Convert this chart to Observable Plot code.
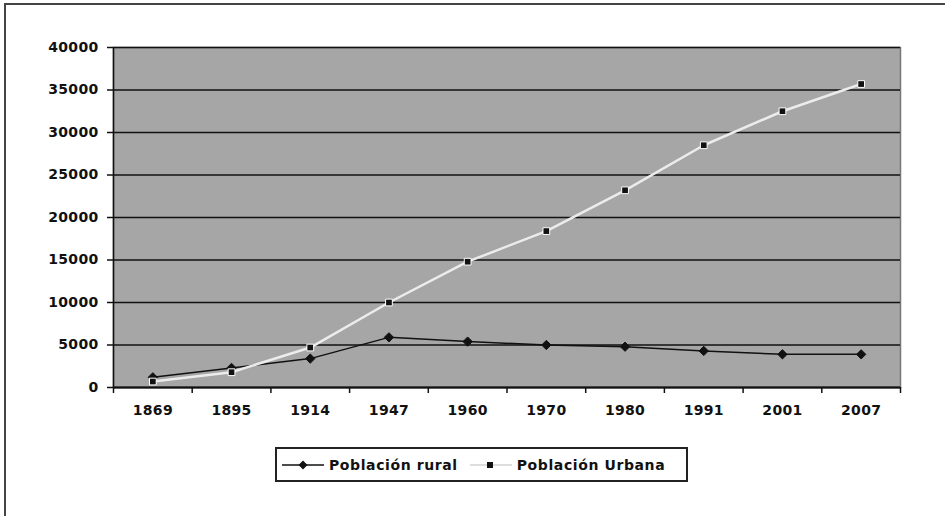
<!DOCTYPE html>
<html>
<head>
<meta charset="utf-8">
<script src="https://cdn.jsdelivr.net/npm/d3@7"></script>
<script src="https://cdn.jsdelivr.net/npm/@observablehq/plot@0.6"></script>
<style>
  html, body { margin: 0; padding: 0; overflow: hidden; background: #fff; }
  #wrap { position: relative; width: 945px; height: 516px; overflow: hidden; }
  #frame { position: absolute; left: 4px; top: 3px; width: 960px; height: 600px; border: 2px solid #444; box-sizing: border-box; }
  #legend { position: absolute; left: 275px; top: 447px; width: 413px; height: 35px; box-sizing: border-box;
    border: 2px solid #222; display: flex; align-items: center; font-family: "DejaVu Sans", sans-serif; font-weight: bold; font-size: 14px; letter-spacing: 0.6px; color: #111; background: #fff; }
  #legend .item { display: flex; align-items: center; }
  #legend svg { display: block; }
  #chart { position: absolute; left: 0; top: 0; }
</style>
</head>
<body>
<div id="wrap">
  <div id="frame"></div>
  <div id="chart"></div>
  <div id="legend"></div>
</div>
<script>
const years = ["1869", "1895", "1914", "1947", "1960", "1970", "1980", "1991", "2001", "2007"];
const rural = [1200, 2300, 3400, 5900, 5400, 5000, 4800, 4300, 3900, 3900];
const urban = [700, 1800, 4700, 10000, 14800, 18400, 23200, 28500, 32500, 35700];
const yTicks = [0, 5000, 10000, 15000, 20000, 25000, 30000, 35000, 40000];
const seriesNames = ["Población rural", "Población Urbana"];

const ruralData = years.map((y, i) => ({i: i + 0.5, year: y, value: rural[i]}));
const urbanData = years.map((y, i) => ({i: i + 0.5, year: y, value: urban[i]}));

const chart = Plot.plot({
  width: 945,
  height: 516,
  marginLeft: 113,
  marginRight: 45,
  marginTop: 47,
  marginBottom: 129,
  style: {fontFamily: "DejaVu Sans, sans-serif", fontWeight: "bold", fontSize: "14px", letterSpacing: "0.3px", color: "#111", background: "transparent", overflow: "visible"},
  x: {domain: [0, years.length], axis: null},
  y: {domain: [0, 40000], axis: null},
  marks: [
    Plot.frame({fill: "#a6a6a6", stroke: "#777", strokeWidth: 1.5}),
    Plot.gridY(yTicks, {stroke: "#111", strokeOpacity: 1, strokeWidth: 1.5}),
    Plot.axisY(yTicks, {label: null, tickSize: 6, tickPadding: 9, stroke: "#111", strokeWidth: 1.5, fill: "#111", tickFormat: d => String(d)}),
    Plot.ruleX([0], {stroke: "#111", strokeWidth: 1.5}),
    Plot.ruleY([0], {stroke: "#111", strokeWidth: 2}),
    Plot.axisX(d3.range(years.length + 1), {label: null, tickSize: 6, stroke: "#111", strokeWidth: 1.5, tickFormat: () => ""}),
    Plot.axisX(years.map((_, i) => i + 0.5), {label: null, tickSize: 0, tickPadding: 18, fill: "#111", tickFormat: d => years[Math.floor(d)]}),
    Plot.line(ruralData, {x: "i", y: "value", stroke: "#111", strokeWidth: 1.5}),
    Plot.line(urbanData, {x: "i", y: "value", stroke: "#ececec", strokeWidth: 2.5}),
    Plot.dot(ruralData, {x: "i", y: "value", symbol: "diamond2", fill: "#111", stroke: "#111", strokeWidth: 1, r: 4.2}),
    Plot.dot(urbanData, {x: "i", y: "value", symbol: "square", fill: "#111", stroke: "#fff", strokeWidth: 1, r: 3.8})
  ]
});
document.getElementById("chart").appendChild(chart);

// legend
const legend = document.getElementById("legend");
const swatches = [
  `<svg width="44" height="12"><line x1="2" y1="6" x2="44" y2="6" stroke="#111" stroke-width="1.5"/><path d="M23,1.5 L27.5,6 L23,10.5 L18.5,6 Z" fill="#111"/></svg>`,
  `<svg width="44" height="12"><line x1="2" y1="6" x2="44" y2="6" stroke="#ddd" stroke-width="2"/><rect x="19" y="3" width="6" height="6" fill="#111"/></svg>`
];
seriesNames.forEach((name, k) => {
  const item = document.createElement("div");
  item.className = "item";
  item.style.marginLeft = k === 0 ? "3px" : "10px";
  item.innerHTML = swatches[k] + `<span style="margin-left:5px">${name}</span>`;
  legend.appendChild(item);
});
</script>
</body>
</html>
